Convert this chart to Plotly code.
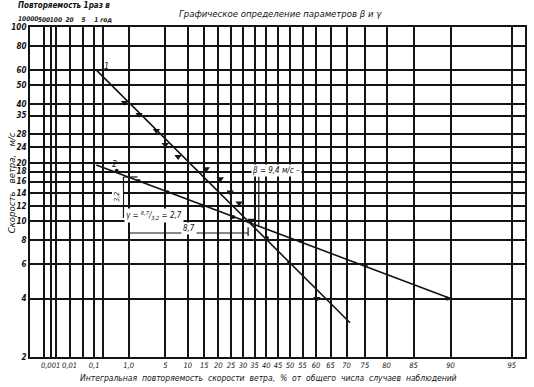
import numpy as np
import plotly.graph_objects as go

# ---------------- data ----------------
# bottom axis: integral recurrence, % (Weibull probability paper)
x_tick_pct = [0.001, 0.01, 0.1, 1.0, 5, 10, 15, 20, 25, 30, 35, 40, 45, 50,
              55, 60, 65, 70, 75, 80, 85, 90, 95]
x_tick_text = ["0,001", "0,01", "0,1", "1,0", "5", "10", "15", "20", "25", "30",
               "35", "40", "45", "50", "55", "60", "65", "70", "75", "80", "85",
               "90", "95"]
# left axis: wind speed, m/s (log)
y_tick_vals = [2, 4, 6, 8, 10, 12, 14, 16, 18, 20, 24, 28, 35, 40, 50, 60, 80, 100]
# top axis: return period, years
return_years = [500, 100, 20, 5, 1]
return_text = ["500", "100", "20", "5", "1 год"]
obs_per_year = 500

# line 1 (fitted) and its points
line1_pct = [0.12, 71.0]
line1_speed = [60.0, 3.0]
s1_tri_pct = [0.8, 1.7, 3.6, 5.0, 7.6, 15.7, 20.8, 24.7, 28.4, 33.5, 60.3]
s1_tri_speed = [40.8, 35.4, 29.3, 24.8, 21.5, 18.6, 16.5, 14.1, 12.4, 10.1, 4.0]
s1_dot_pct = [40.3, 49.6]
s1_dot_speed = [8.2, 6.1]

# line 2 (fitted) and its points
line2_pct = [0.12, 90.0]
line2_speed = [19.5, 4.0]
s2_dot_pct = [0.5, 1.66, 5.4, 14.4, 25.9, 32.6, 54.3, 75.2, 89.6]
s2_dot_speed = [18.2, 16.1, 14.1, 12.0, 10.5, 10.0, 7.9, 5.9, 4.0]

# construction for gamma and beta
dim_pct = [0.75, 0.75, None, 1.0, 1.0, 32.2, None, 32.2, 32.2, None, 0.75, 1.58]
dim_speed = [16.9, 10.4, None, 17.2, 8.7, 8.7, None, 9.3, 8.4, None, 16.9, 16.9]
beta_pct = [36.8, 36.8]
beta_speed = [9.4, 17.0]

# ---------------- helpers ----------------
def wx(p):
    """Weibull paper abscissa: -log10(-ln(P)), P in %."""
    out = []
    for v in p:
        out.append(None if v is None else float(-np.log10(-np.log(v / 100.0))))
    return out

XR = [-1.166, 1.357]
FONT = "Liberation Sans Narrow, DejaVu Sans Condensed, DejaVu Sans, sans-serif"
INK = "#141414"
NB = "\u00a0"

def paper_x(v):
    return (v - XR[0]) / (XR[1] - XR[0])

def f(size, bold=False):
    d = dict(family=FONT, size=size, color=INK, style="italic")
    if bold:
        d["weight"] = "bold"
    return d

fig = go.Figure()

fig.add_trace(go.Scatter(x=wx(line1_pct), y=line1_speed, mode="lines",
                         line=dict(color=INK, width=1.6), hoverinfo="skip"))
fig.add_trace(go.Scatter(x=wx(line2_pct), y=line2_speed, mode="lines",
                         line=dict(color=INK, width=1.6), hoverinfo="skip"))
fig.add_trace(go.Scatter(x=wx(dim_pct), y=dim_speed, mode="lines",
                         line=dict(color=INK, width=1.2), hoverinfo="skip"))
fig.add_trace(go.Scatter(x=wx(beta_pct), y=beta_speed, mode="lines",
                         line=dict(color=INK, width=1.2), hoverinfo="skip"))
fig.add_trace(go.Scatter(x=wx(s1_tri_pct), y=s1_tri_speed, mode="markers",
                         marker=dict(symbol="triangle-down", size=6.5, color=INK)))
fig.add_trace(go.Scatter(x=wx(s1_dot_pct), y=s1_dot_speed, mode="markers",
                         marker=dict(symbol="circle", size=4, color=INK)))
fig.add_trace(go.Scatter(x=wx(s2_dot_pct), y=s2_dot_speed, mode="markers",
                         marker=dict(symbol="circle", size=4, color=INK)))
# carrier for the top axis
ret_pct = [100.0 / (obs_per_year * t) for t in return_years]
fig.add_trace(go.Scatter(x=wx(ret_pct), y=[2.0] * len(ret_pct), mode="lines",
                         xaxis="x2", line=dict(width=0, color="rgba(0,0,0,0)"),
                         hoverinfo="skip"))

grid = dict(showgrid=True, gridcolor=INK, gridwidth=1.6, zeroline=False,
            ticks="", showline=True, linecolor=INK, linewidth=2)

fig.update_layout(
    width=534, height=387,
    margin=dict(l=30, r=7, t=27, b=30),
    paper_bgcolor="white", plot_bgcolor="white",
    showlegend=False,
    font=f(9),
    xaxis=dict(range=XR, tickvals=wx(x_tick_pct), ticktext=x_tick_text,
               tickangle=0, tickfont=f(7.5), mirror=True, **grid),
    xaxis2=dict(range=XR, overlaying="x", side="top", tickvals=wx(ret_pct),
                ticktext=return_text, tickangle=0, tickfont=f(6.5, True), **grid),
    yaxis=dict(type="log", range=[np.log10(2), 2], tickvals=y_tick_vals,
               ticktext=[str(v) for v in y_tick_vals],
               tickfont=f(8, True), mirror=True, **grid),
)

ten_k = wx([100.0 / (obs_per_year * 10000)])[0]
C = dict(xanchor="center", yanchor="middle", showarrow=False)
ann = [
    dict(text="Графическое определение параметров β и γ", xref="paper", yref="paper",
         x=0.507, y=1.042, font=f(9.5), **C),
    dict(text="Повторяемость 1раз в", xref="paper", yref="paper", x=0.068, y=1.066,
         font=f(8, True), **C),
    dict(text="10000", xref="paper", yref="paper", x=paper_x(ten_k) + 0.004, y=1.024,
         font=f(6.5, True), **C),
    dict(text=f"Скорость{NB}{NB}{NB}ветра,{NB}{NB}{NB}м/с", xref="paper", yref="paper",
         x=-0.038, y=0.527, textangle=-90, font=f(9.5), **C),
    dict(text=("Интегральная" + NB * 2 + "повторяемость" + NB * 2 + "скорости" + NB * 2 +
               "ветра," + NB * 2 + "%" + NB * 2 + "от" + NB * 2 + "общего" + NB * 2 +
               "числа" + NB * 2 + "случаев" + NB * 2 + "наблюдений"),
         xref="paper", yref="paper", x=0.481, y=-0.064, font=f(8.5), **C),
    dict(text="1", x=wx([0.26])[0], y=np.log10(62.8), font=f(9), **C),
    dict(text="2", x=wx([0.44])[0], y=np.log10(19.7), font=f(9), **C),
    dict(text="3,2", x=wx([0.53])[0], y=np.log10(13.3), textangle=-90,
         bgcolor="white", font=f(7), **C),
    dict(text="γ = <sup>8,7</sup>/<sub>3,2</sub> = 2,7", x=wx([3.3])[0], y=np.log10(10.7),
         bgcolor="white", font=f(8), **C),
    dict(text="8,7", x=wx([10.4])[0], y=np.log10(9.2), bgcolor="white", font=f(8), **C),
    dict(text="β = 9,4 м/с –", x=wx([44.2])[0], y=np.log10(18.2),
         bgcolor="white", font=f(8), **C),
]
fig.update_layout(annotations=ann)

fig.write_html("out.html")
